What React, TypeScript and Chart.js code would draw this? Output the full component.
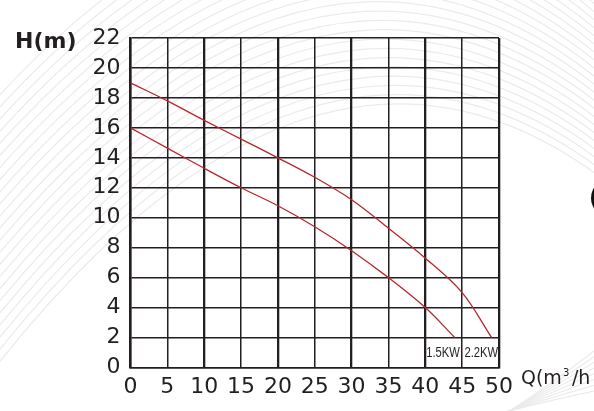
import React, { useEffect, useRef } from "react";
import { Chart, registerables } from "chart.js";
Chart.register(...registerables);

const flowUpper = [0, 5, 10, 15, 20, 25, 30, 35, 40, 45, 49];
const headUpper = [19, 17.8, 16.5, 15.25, 14, 12.7, 11.2, 9.3, 7.3, 5.0, 2.0];
const flowLower = [0, 5, 10, 15, 20, 25, 30, 35, 40, 44];
const headLower = [16, 14.65, 13.3, 12.0, 10.8, 9.4, 7.8, 6.0, 4.0, 2.0];
const seriesNames = ["2.2KW", "1.5KW"];
const labelPos = [47.6, 42.4];
const yTitle = "H(m)";
const xTitle = "Q(m";

const INK = "#231f20";
const RED = "rgb(185,38,45)";
const TICK_FONT = '"DejaVu Sans", "Liberation Sans", Arial';

const backdrop = {
  id: "backdrop",
  beforeDraw(chart: any) {
    const { ctx } = chart;
    ctx.save();
    ctx.fillStyle = "#fff";
    ctx.fillRect(0, 0, 594, 411);
    ctx.strokeStyle = "#ebebeb";
    ctx.lineWidth = 1.2;
    for (let d = -140; d <= 60; d += 9) {
      ctx.beginPath();
      ctx.moveTo(-60, 360 + d * 1.4);
      ctx.quadraticCurveTo(380, -240 + d, 760, 300 + d * 0.8);
      ctx.stroke();
    }
    for (let d = 0; d <= 60; d += 8) {
      ctx.beginPath();
      ctx.moveTo(480, 430 - d * 0.2);
      ctx.quadraticCurveTo(560, 380 + d * 0.3, 620, 330 + d);
      ctx.stroke();
    }
    ctx.fillStyle = "#111";
    ctx.beginPath();
    ctx.ellipse(610, 198, 19, 19, 0, 0, Math.PI * 2);
    ctx.fill();
    ctx.restore();
  },
};

const overlay = {
  id: "overlay",
  afterDatasetsDraw(chart: any) {
    const { ctx, scales } = chart;
    const x = scales.x, y = scales.y;
    ctx.save();
    ctx.fillStyle = INK;
    ctx.font = '14px "Liberation Sans", Arial';
    ctx.textAlign = "center";
    ctx.textBaseline = "middle";
    seriesNames.forEach((n, i) => {
      const px = x.getPixelForValue(labelPos[i]);
      const py = y.getPixelForValue(0.97);
      ctx.save();
      ctx.translate(px, py);
      ctx.scale(0.8, 1);
      ctx.fillText(n, 0, 0);
      ctx.restore();
    });
    ctx.textAlign = "left";
    ctx.textBaseline = "alphabetic";
    ctx.font = 'bold 22px "DejaVu Sans", Arial';
    ctx.fillText(yTitle, 15, 48);
    ctx.font = '19px "DejaVu Sans", Arial';
    ctx.fillText(xTitle, 521, 384);
    const w = ctx.measureText(xTitle).width;
    ctx.font = '10px "DejaVu Sans", Arial';
    ctx.fillText("3", 521 + w + 1, 376);
    ctx.font = '19px "DejaVu Sans", Arial';
    ctx.fillText(" /h", 521 + w + 4, 384);
    ctx.restore();
  },
};

export default function App() {
  const ref = useRef<HTMLCanvasElement>(null);
  useEffect(() => {
    const chart = new Chart(ref.current!, {
      type: "scatter",
      data: {
        datasets: [
          {
            label: seriesNames[0],
            data: flowUpper.map((q, i) => ({ x: q, y: headUpper[i] })),
            showLine: true,
            borderColor: RED,
            borderWidth: 1.3,
            pointRadius: 0,
            tension: 0.35,
          },
          {
            label: seriesNames[1],
            data: flowLower.map((q, i) => ({ x: q, y: headLower[i] })),
            showLine: true,
            borderColor: RED,
            borderWidth: 1.3,
            pointRadius: 0,
            tension: 0.35,
          },
        ],
      },
      options: {
        animation: false,
        responsive: false,
        layout: { padding: { top: 38, right: 95, left: 0, bottom: 0 } },
        plugins: { legend: { display: false }, tooltip: { enabled: false } },
        scales: {
          x: {
            type: "linear",
            min: 0,
            max: 50,
            afterFit: (s: any) => { s.height = 43.5; },
            ticks: {
              stepSize: 5,
              autoSkip: false,
              maxRotation: 0,
              padding: 7,
              color: INK,
              font: { family: TICK_FONT, size: 22 },
            },
            grid: {
              drawTicks: false,
              color: INK,
              lineWidth: (c: any) => (c.tick && c.tick.value % 10 === 0 ? 2.3 : 1.5),
            },
            border: { display: true, color: INK, width: 1.5 },
          },
          y: {
            type: "linear",
            min: 0,
            max: 22,
            afterFit: (s: any) => { s.width = 130.5; },
            ticks: {
              stepSize: 2,
              autoSkip: false,
              padding: 10,
              color: INK,
              font: { family: TICK_FONT, size: 22 },
            },
            grid: { drawTicks: false, color: INK, lineWidth: 1.5 },
            border: { display: true, color: INK, width: 2.5 },
          },
        },
      },
      plugins: [backdrop, overlay],
    });
    return () => chart.destroy();
  }, []);
  return (
    <div style={{ position: "fixed", left: 0, top: 0, width: 594, height: 411, background: "#fff" }}>
      <canvas ref={ref} width={594} height={411} />
    </div>
  );
}
